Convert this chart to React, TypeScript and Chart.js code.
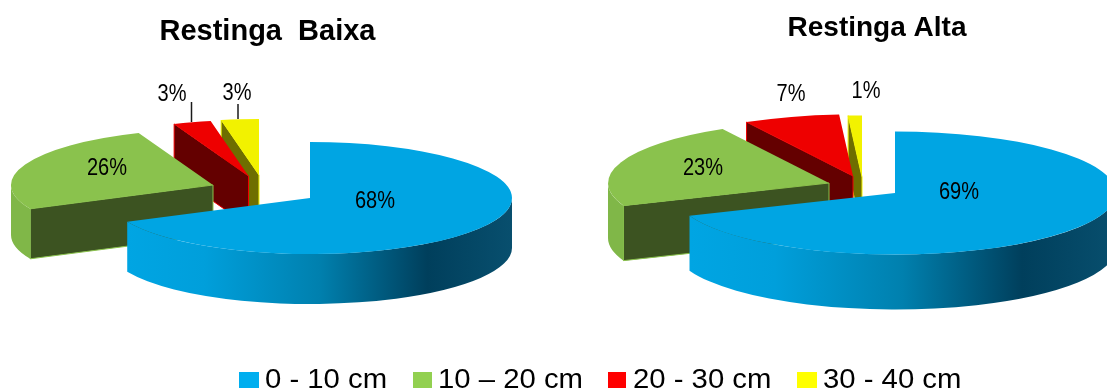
import React, { useEffect, useRef } from "react";
import { Chart, registerables } from "chart.js";

Chart.register(...registerables);

// Share of roots per soil depth class
const depthClasses = ["0 - 10 cm", "10 – 20 cm", "20 - 30 cm", "30 - 40 cm"];
const restingaBaixa = [68, 26, 3, 3];
const restingaAlta = [69, 23, 7, 1];

// Slice colours, in depth-class order
const topColors = ["#00A5E3", "#8AC24D", "#EE0000", "#F2F200"];
const faceColors = ["#005A80", "#3C5321", "#640000", "#6E6E00"];
const edgeColors = ["#00A5E3", "#8AC24D", "#EE0000", "#F2F200"];
const wallColors = ["#00A5E3", "#80B748", "#8E0000", "#8E8E00"];
const legendColors = ["#00AEEF", "#92D050", "#FF0000", "#FFFF00"];

const FONT = '"Liberation Sans", Arial, sans-serif';

type Pt = [number, number];

interface PieLayout {
  title: string;
  titleSize: number;
  titleTop: number;
  values: number[];
  canvasLeft: number;
  canvasWidth: number;
  rx: number;
  ry: number;
  depth: number;
  wallDarkest: number;
  apexes: Pt[];
  labels: Pt[];
  leaders: [number, number, number, number][];
}

const pies: PieLayout[] = [
  {
    title: "Restinga  Baixa",
    titleSize: 29,
    titleTop: 15,
    values: restingaBaixa,
    canvasLeft: 0,
    canvasWidth: 535,
    rx: 202,
    ry: 56,
    depth: 50,
    wallDarkest: 0.78,
    apexes: [[310, 198], [213, 185], [248.5, 176], [259, 175]],
    labels: [[375, 202], [107, 169], [172, 95], [237, 94]],
    leaders: [[191.5, 102, 191.5, 122], [238, 104, 238, 119]],
  },
  {
    title: "Restinga Alta",
    titleSize: 28,
    titleTop: 11,
    values: restingaAlta,
    canvasLeft: 560,
    canvasWidth: 634,
    rx: 221,
    ry: 61.5,
    depth: 55,
    wallDarkest: 0.78,
    apexes: [[895, 193], [829, 183], [853, 176], [862, 177]],
    labels: [[959, 193], [703, 169], [791, 95], [866, 92]],
    leaders: [],
  },
];

// Flat pie elements are squashed and extruded into tilted wedges
const tiltedPie = (pie: PieLayout) => ({
  id: "tiltedPie",
  beforeDatasetDraw(chart: any, args: any) {
    const ctx: CanvasRenderingContext2D = chart.ctx;
    const arcs = chart.getDatasetMeta(args.index).data;
    const { rx, ry, depth } = pie;

    for (let i = arcs.length - 1; i >= 0; i--) {
      const arc = arcs[i];
      const cx = pie.apexes[i][0] - pie.canvasLeft;
      const cy = pie.apexes[i][1];
      const a0 = arc.startAngle;
      const a1 = arc.endAngle;
      const rim = (a: number): Pt => [cx + Math.cos(a) * rx, cy + Math.sin(a) * ry];

      // Cut faces that turn towards the viewer
      const drawFace = (a: number) => {
        const [x, y] = rim(a);
        ctx.beginPath();
        ctx.moveTo(x, y);
        ctx.lineTo(cx, cy);
        ctx.lineTo(cx, cy + depth);
        ctx.lineTo(x, y + depth);
        ctx.closePath();
        ctx.fillStyle = faceColors[i];
        ctx.fill();
        ctx.strokeStyle = edgeColors[i];
        ctx.lineWidth = 1;
        ctx.stroke();
      };
      if (Math.cos(a0) < -1e-6) drawFace(a0);
      if (Math.cos(a1) > 1e-6) drawFace(a1);

      // Outer wall: only the lower half of the rim is visible
      const w0 = Math.max(a0, 0);
      const w1 = Math.min(a1, Math.PI);
      if (w1 > w0) {
        ctx.beginPath();
        ctx.ellipse(cx, cy, rx, ry, 0, w0, w1);
        ctx.ellipse(cx, cy + depth, rx, ry, 0, w1, w0, true);
        ctx.closePath();
        if (i === 0) {
          const left = rim(w1)[0];
          const right = cx + rx;
          const g = ctx.createLinearGradient(left, 0, right, 0);
          g.addColorStop(0, "#00A5E3");
          g.addColorStop(0.2, "#009FDB");
          g.addColorStop(0.5, "#0080AE");
          g.addColorStop(pie.wallDarkest, "#003F5C");
          g.addColorStop(1, "#084F6E");
          ctx.fillStyle = g;
        } else {
          ctx.fillStyle = wallColors[i];
        }
        ctx.fill();
      }

      // Top surface: the library's own arc, flattened about its apex
      ctx.save();
      ctx.translate(cx, cy);
      ctx.scale(1, ry / rx);
      ctx.translate(-arc.x, -arc.y);
      arc.draw(ctx);
      ctx.restore();
    }

    // Leader lines and percentage labels
    ctx.strokeStyle = "#1a1a1a";
    ctx.lineWidth = 1.5;
    pie.leaders.forEach(([x0, y0, x1, y1]) => {
      ctx.beginPath();
      ctx.moveTo(x0 - pie.canvasLeft, y0);
      ctx.lineTo(x1 - pie.canvasLeft, y1);
      ctx.stroke();
    });
    ctx.fillStyle = "#000";
    ctx.font = `23px ${FONT}`;
    ctx.textAlign = "center";
    ctx.textBaseline = "middle";
    pie.values.forEach((v, i) => {
      const [x, y] = pie.labels[i];
      ctx.save();
      ctx.translate(x - pie.canvasLeft, y);
      ctx.scale(0.87, 1);
      ctx.fillText(`${v}%`, 0, 0);
      ctx.restore();
    });
    return false;
  },
});

function DepthPie({ pie }: { pie: PieLayout }) {
  const ref = useRef<HTMLCanvasElement>(null);
  useEffect(() => {
    const chart = new Chart(ref.current!, {
      type: "pie",
      data: {
        labels: depthClasses,
        datasets: [
          {
            data: pie.values,
            backgroundColor: topColors,
            borderWidth: 0,
            radius: pie.rx,
          } as any,
        ],
      },
      options: {
        responsive: false,
        animation: false,
        layout: { padding: 0 },
        plugins: {
          legend: { display: false },
          tooltip: { enabled: false },
          title: {
            display: true,
            text: pie.title,
            color: "#000",
            font: { family: FONT, size: pie.titleSize, weight: "bold" },
            padding: { top: pie.titleTop, bottom: 0 },
          },
        },
      },
      plugins: [tiltedPie(pie)],
    });
    return () => chart.destroy();
  }, [pie]);
  return (
    <canvas
      ref={ref}
      width={pie.canvasWidth}
      height={392}
      style={{ position: "absolute", left: pie.canvasLeft, top: 0, width: pie.canvasWidth, height: 392 }}
    />
  );
}

// Legend row: swatch left edge, swatch width, text left edge
const legendSlots: [number, number, number][] = [
  [239, 20, 265],
  [413, 19, 438],
  [608, 18, 633],
  [797, 20, 823],
];

function Legend() {
  return (
    <>
      {depthClasses.map((label, i) => (
        <React.Fragment key={label}>
          <div
            style={{
              position: "absolute",
              left: legendSlots[i][0],
              top: 372,
              width: legendSlots[i][1],
              height: 16,
              background: legendColors[i],
            }}
          />
          <div
            style={{
              position: "absolute",
              left: legendSlots[i][2],
              top: 365,
              font: `27px/28px ${FONT}`,
              color: "#000",
              whiteSpace: "pre",
              transform: "scaleX(1.085)",
              transformOrigin: "left center",
            }}
          >
            {label}
          </div>
        </React.Fragment>
      ))}
    </>
  );
}

export default function App() {
  return (
    <div
      style={{
        position: "absolute",
        left: 0,
        top: 0,
        width: 1107,
        height: 392,
        overflow: "hidden",
        background: "#fff",
      }}
    >
      {pies.map((pie) => (
        <DepthPie key={pie.title} pie={pie} />
      ))}
      <Legend />
    </div>
  );
}
